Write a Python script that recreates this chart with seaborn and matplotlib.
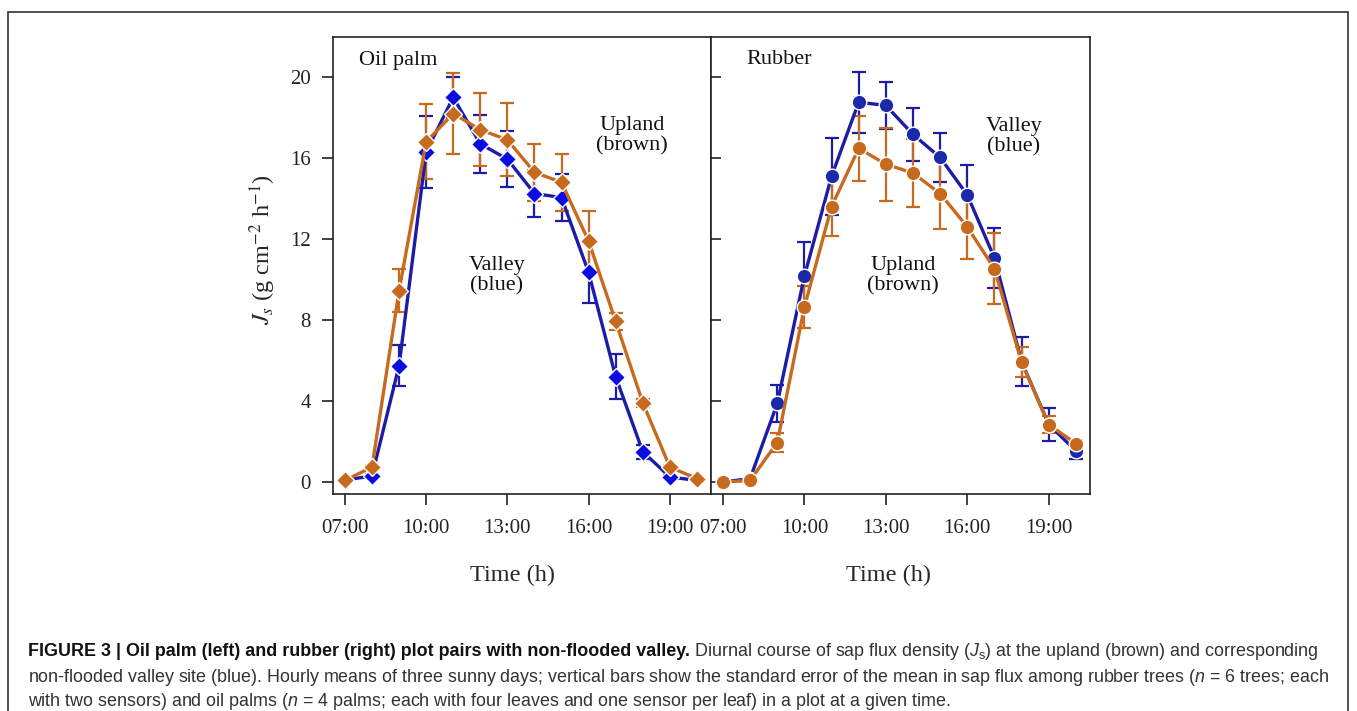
import matplotlib
matplotlib.use("Agg")
import matplotlib.pyplot as plt
import matplotlib.patches as mpatches
import numpy as np
import pandas as pd
import seaborn as sns

# hourly means (07:00 .. 20:00)
hours = list(range(7, 21))

palm_valley = [0.1, 0.3, 5.75, 16.3, 19.0, 16.7, 15.95, 14.25, 14.05, 10.35, 5.2, 1.5, 0.25, 0.08]
palm_valley_se = [0.05, 0.1, 1.0, 1.8, 1.0, 1.45, 1.4, 1.15, 1.15, 1.5, 1.1, 0.35, 0.1, 0.05]
palm_upland = [0.08, 0.74, 9.45, 16.8, 18.2, 17.4, 16.9, 15.3, 14.8, 11.9, 7.93, 3.92, 0.74, 0.17]
palm_upland_se = [0.05, 0.1, 1.05, 1.85, 2.0, 1.8, 1.8, 1.4, 1.4, 1.5, 0.4, 0.2, 0.1, 0.05]

rubber_valley = [0.0, 0.17, 3.88, 10.17, 15.1, 18.76, 18.6, 17.17, 16.03, 14.18, 11.07, 5.95, 2.84, 1.54]
rubber_valley_se = [0.05, 0.1, 0.9, 1.7, 1.9, 1.5, 1.15, 1.3, 1.2, 1.5, 1.5, 1.2, 0.8, 0.4]
rubber_upland = [0.0, 0.08, 1.95, 8.64, 13.6, 16.48, 15.7, 15.26, 14.25, 12.6, 10.53, 5.92, 2.84, 1.9]
rubber_upland_se = [0.05, 0.05, 0.45, 1.05, 1.45, 1.6, 1.8, 1.7, 1.75, 1.6, 1.75, 0.75, 0.43, 0.2]

xticks = [7, 10, 13, 16, 19]
xticklabels = ["07:00", "10:00", "13:00", "16:00", "19:00"]
yticks = [0, 4, 8, 12, 16, 20]

BLUE_LINE = "#1c1ca6"
BLUE_MARK = "#0c0ce0"
BLUE_DOT = "#1a2aaa"
ORANGE = "#c86a1e"

W, H = 1357, 711


def fx(px):
    return px / W


def fy(py):
    return 1 - py / H


def draw_series(ax, vals, se, line_color, face_color, marker, msize):
    ax.errorbar(hours, vals, yerr=se, fmt="none", ecolor=line_color,
                elinewidth=1.6, capsize=5, capthick=1.6, zorder=2)
    df = pd.DataFrame({"hour": hours, "js": vals})
    sns.lineplot(data=df, x="hour", y="js", color=line_color, linewidth=2.4,
                 marker=marker, markersize=msize, markerfacecolor=face_color,
                 markeredgecolor="white", markeredgewidth=1.0, ax=ax, zorder=3)


def style_axes(ax, label_x):
    ax.set_xlim(6.56, 20.52)
    ax.set_ylim(-0.59, 21.98)
    ax.set_xticks(xticks)
    ax.set_xticklabels(xticklabels)
    ax.set_yticks(yticks)
    ax.set_xlabel("Time (h)", fontsize=17.5)
    ax.xaxis.set_label_coords(label_x, -0.155)
    for s in ax.spines.values():
        s.set_visible(True)
        s.set_linewidth(1.2)
        s.set_color("#222222")
    ax.tick_params(axis="x", direction="out", length=8, width=1.2,
                   labelsize=15, pad=10, colors="#222222")


def main():
    sns.set_style("ticks")
    plt.rcParams["font.family"] = ["Liberation Serif", "DejaVu Serif"]
    plt.rcParams["mathtext.fontset"] = "custom"
    plt.rcParams["mathtext.rm"] = "Liberation Sans"
    plt.rcParams["mathtext.it"] = "Liberation Sans:italic"

    fig = plt.figure(figsize=(W / 100, H / 100), dpi=100)
    ax1 = fig.add_axes([fx(333), fy(494), fx(378), 457 / H])
    ax2 = fig.add_axes([fx(711), fy(494), fx(379), 457 / H])

    # oil palm
    draw_series(ax1, palm_valley, palm_valley_se, BLUE_LINE, BLUE_MARK, "D", 9)
    draw_series(ax1, palm_upland, palm_upland_se, ORANGE, ORANGE, "D", 9)
    # rubber
    draw_series(ax2, rubber_valley, rubber_valley_se, BLUE_LINE, BLUE_DOT, "o", 10.5)
    draw_series(ax2, rubber_upland, rubber_upland_se, ORANGE, ORANGE, "o", 10.5)

    style_axes(ax1, (513 - 333) / 378)
    style_axes(ax2, (888 - 711) / 379)
    ax1.tick_params(axis="y", direction="out", length=8, width=1.2,
                    labelsize=15, pad=8, colors="#222222")
    ax2.tick_params(axis="y", direction="in", length=7, width=1.2,
                    labelleft=False, colors="#222222")
    ax1.set_ylabel(r"$J_s$ (g cm$^{\mathsf{-}2}$ h$^{\mathsf{-}1}$)", fontsize=17.5,
                   math_fontfamily="stix")
    ax1.yaxis.set_label_coords(-0.145, 0.534)
    ax2.set_ylabel("")

    txt = dict(fontsize=16, color="#111111", ha="center", va="center",
               linespacing=1.1)
    ax1.text((398 - 333) / 378, 1 - (60 - 37) / 457, "Oil palm", **txt)
    ax1.text((632 - 333) / 378, 1 - (136 - 37) / 457, "Upland\n(brown)", **txt)
    ax1.text((497 - 333) / 378, 1 - (276 - 37) / 457, "Valley\n(blue)", **txt)
    ax2.text((779 - 711) / 379, 1 - (60 - 37) / 457, "Rubber", **txt)
    ax2.text((1014 - 711) / 379, 1 - (137 - 37) / 457, "Valley\n(blue)", **txt)
    ax2.text((903 - 711) / 379, 1 - (276 - 37) / 457, "Upland\n(brown)", **txt)
    for ax in (ax1, ax2):
        for t in ax.texts:
            t.set_transform(ax.transAxes)

    # outer frame
    fig.patches.append(mpatches.Rectangle(
        (fx(8), -0.05), fx(1348 - 8), fy(12) + 0.05, transform=fig.transFigure,
        fill=False, edgecolor="#333333", linewidth=1.2))

    # caption
    cap_fam = ["Liberation Sans Narrow", "Liberation Sans", "DejaVu Sans"]
    bold = "FIGURE 3 | Oil palm (left) and rubber (right) plot pairs with non-flooded valley."
    rest1 = (" Diurnal course of sap flux density ($J_\\mathrm{s}$) at the upland "
             "(brown) and corresponding")
    line2 = ("non-flooded valley site (blue). Hourly means of three sunny days; "
             "vertical bars show the standard error of the mean in sap flux among "
             "rubber trees ($n$ = 6 trees; each")
    line3 = ("with two sensors) and oil palms ($n$ = 4 palms; each with four leaves "
             "and one sensor per leaf) in a plot at a given time.")

    x0 = fx(28)
    renderer = fig.canvas.get_renderer()
    probe = fig.text(x0, fy(677), line2, fontsize=11, family=cap_fam)
    w = probe.get_window_extent(renderer).width
    fs = 11 * (1299 / w)
    probe.set_fontsize(fs)
    probe.set_va("center")
    probe.set_color("#333333")
    fig.text(x0, fy(701), line3, fontsize=fs, family=cap_fam, va="center",
             color="#333333")
    tb = fig.text(x0, fy(652), bold, fontsize=fs, family=cap_fam,
                  fontweight="bold", va="center", color="#111111")
    bw = tb.get_window_extent(renderer).width
    fig.text(x0 + bw / W, fy(652), rest1, fontsize=fs, family=cap_fam,
             va="center", color="#333333")

    fig.savefig("out.png", dpi=100)


if __name__ == "__main__":
    main()
